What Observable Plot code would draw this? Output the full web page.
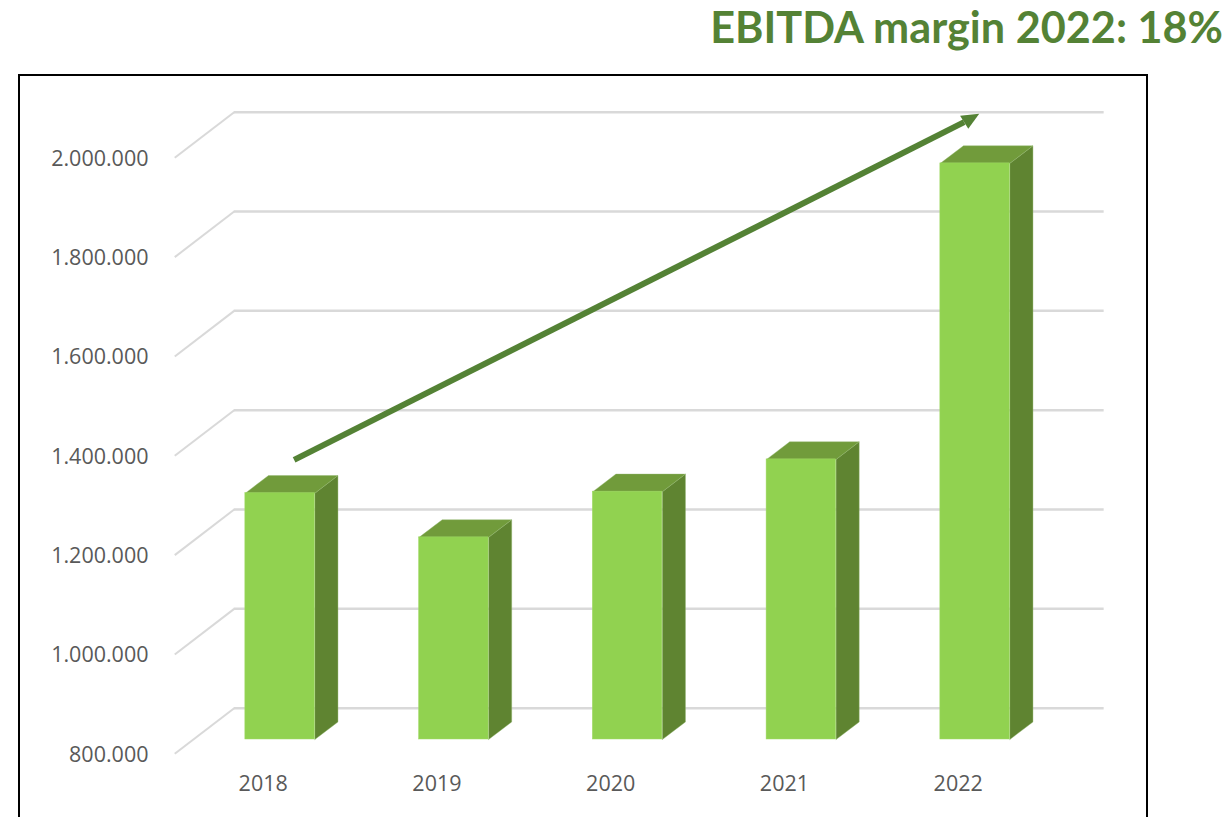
<!DOCTYPE html>
<html><head><meta charset="utf-8">
<script src="https://cdn.jsdelivr.net/npm/d3@7"></script>
<script src="https://cdn.jsdelivr.net/npm/@observablehq/plot@0.6"></script>
<style>
html,body{margin:0;padding:0;background:#fff;overflow:hidden;width:1232px;height:817px}
#title{position:absolute;right:9px;top:-2px;font:700 43.2px/56px Lato,sans-serif;color:#548235;white-space:nowrap}
#frame{position:absolute;left:18px;top:74px;width:1126px;height:760px;border:2.5px solid #000;box-sizing:content-box}
#chart{position:absolute;left:0;top:75px}
#chart svg{background:transparent;overflow:visible}
</style></head><body>
<div id="title">EBITDA margin 2022: 18%</div>
<div id="frame"></div>
<div id="chart"></div>
<script>
const years = [2018, 2019, 2020, 2021, 2022];
const revenue = [1296000, 1207000, 1299000, 1364000, 1960000];
const yTicks = [800000, 1000000, 1200000, 1400000, 1600000, 1800000, 2000000];
const arrowX = [2018.178, 2022.034];
const arrowY = [1391900, 2071700];
const headX = [2022.121, 2022.011, 2022.058];
const headY = [2088900, 2084800, 2058600];

const rows = years.map((year, i) => ({year, value: revenue[i]}));
const half = 0.2, depth = 0.133, rise = 35400, base = 800000;
const wallX = 2017.833, wallEnd = 2022.84, floorX = 2017.491, wallRise = 91800;
const fmt = d3.formatLocale({decimal: ",", thousands: ".", grouping: [3], currency: ["", ""]}).format(",");

const side = rows.flatMap(d => [
  {year: d.year, x: d.year + half, y: base},
  {year: d.year, x: d.year + half + depth, y: base + rise},
  {year: d.year, x: d.year + half + depth, y: d.value + rise},
  {year: d.year, x: d.year + half, y: d.value},
  {year: d.year, x: d.year + half, y: base}
]);
const top_ = rows.flatMap(d => [
  {year: d.year, x: d.year - half, y: d.value},
  {year: d.year, x: d.year - half + depth, y: d.value + rise},
  {year: d.year, x: d.year + half + depth, y: d.value + rise},
  {year: d.year, x: d.year + half, y: d.value},
  {year: d.year, x: d.year - half, y: d.value}
]);
const head = headX.map((x, i) => ({x, y: headY[i]}));
const bar = {dx: 16.9, dy: -14.3};
const textFont = "'Open Sans', sans-serif";

const plot = Plot.plot({
  width: 1232, height: 742,
  marginLeft: 151, marginBottom: 42, marginTop: 0, marginRight: 0,
  x: {type: "linear", domain: [2018, 2022], range: [262.7, 957.7]},
  y: {type: "linear", domain: [800000, 2000000], range: [678.3, 82.3]},
  style: {background: "transparent"},
  marks: [
    Plot.link(yTicks, {x1: floorX, y1: d => d, x2: wallX, y2: d => d + wallRise, stroke: "#d9d9d9", strokeWidth: 2}),
    Plot.ruleY(yTicks, {y: d => d + wallRise, x1: wallX, x2: wallEnd, stroke: "#d9d9d9", strokeWidth: 2.5}),
    Plot.line(side, {x: "x", y: "y", z: "year", fill: "#5f8431", stroke: "#8fb56c", strokeWidth: 0.4, curve: "linear", ...bar}),
    Plot.line(top_, {x: "x", y: "y", z: "year", fill: "#719b3b", stroke: "#8fb56c", strokeWidth: 0.4, curve: "linear", ...bar}),
    Plot.rect(rows, {x1: d => d.year - half, x2: d => d.year + half, y1: base, y2: "value", fill: "#91d250", stroke: "#a0d965", strokeWidth: 0.5, ...bar}),
    Plot.link([0], {x1: arrowX[0], y1: arrowY[0], x2: arrowX[1], y2: arrowY[1], stroke: "#548235", strokeWidth: 6}),
    Plot.line(head, {x: "x", y: "y", fill: "#548235", stroke: "none", curve: "linear"}),
    Plot.axisY(yTicks, {anchor: "left", tickSize: 0, tickPadding: 3, tickFormat: fmt, fontSize: 21.5, fontFamily: textFont, fill: "#595959", label: null, dy: 1}),
    Plot.axisX(years, {anchor: "bottom", tickSize: 0, tickPadding: 0, tickFormat: d => String(d), fontSize: 21.5, fontFamily: textFont, fill: "#595959", label: null})
  ]
});
document.getElementById("chart").appendChild(plot);
</script>
</body></html>
